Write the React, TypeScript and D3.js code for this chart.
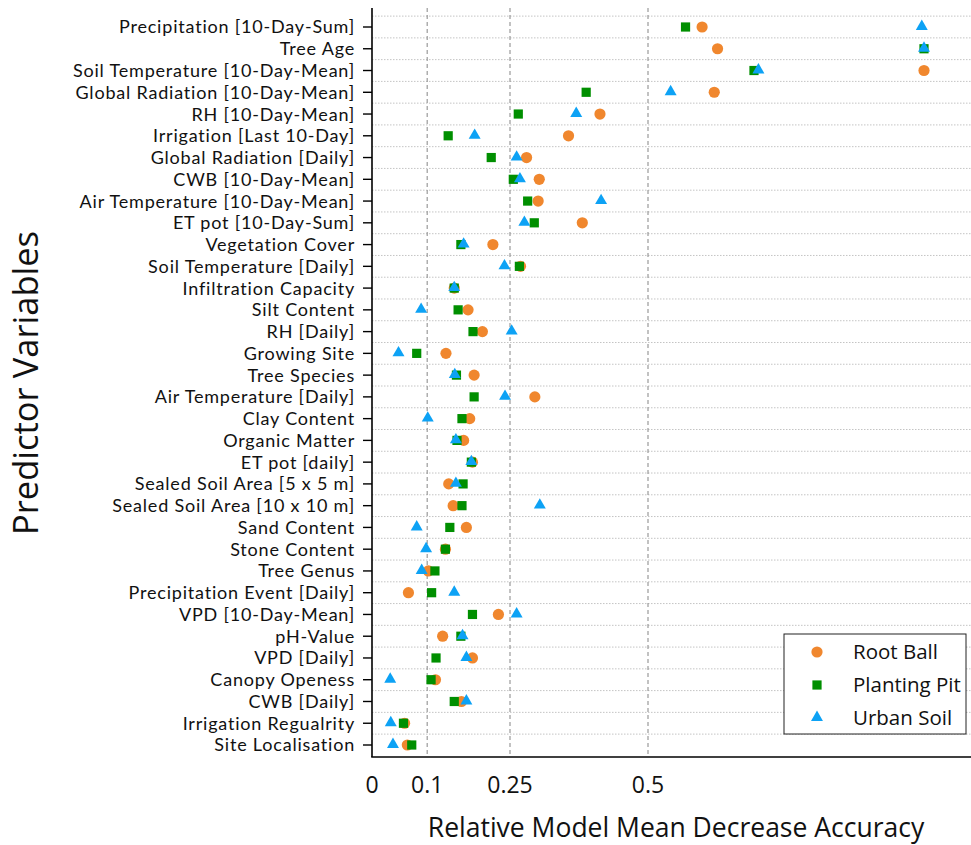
import React from "react";
import * as d3 from "d3";

// Predictor variables, top to bottom
const predictors = [
  "Precipitation [10-Day-Sum]",
  "Tree Age",
  "Soil Temperature [10-Day-Mean]",
  "Global Radiation [10-Day-Mean]",
  "RH [10-Day-Mean]",
  "Irrigation [Last 10-Day]",
  "Global Radiation [Daily]",
  "CWB [10-Day-Mean]",
  "Air Temperature [10-Day-Mean]",
  "ET pot [10-Day-Sum]",
  "Vegetation Cover",
  "Soil Temperature [Daily]",
  "Infiltration Capacity",
  "Silt Content",
  "RH [Daily]",
  "Growing Site",
  "Tree Species",
  "Air Temperature [Daily]",
  "Clay Content",
  "Organic Matter",
  "ET pot [daily]",
  "Sealed Soil Area [5 x 5 m]",
  "Sealed Soil Area [10 x 10 m]",
  "Sand Content",
  "Stone Content",
  "Tree Genus",
  "Precipitation Event [Daily]",
  "VPD [10-Day-Mean]",
  "pH-Value",
  "VPD [Daily]",
  "Canopy Openess",
  "CWB [Daily]",
  "Irrigation Regualrity",
  "Site Localisation",
];

// Relative mean decrease accuracy per site type
const rootBall = [
  0.598, 0.626, 1.0, 0.62, 0.413, 0.356, 0.28, 0.303, 0.301, 0.381, 0.219, 0.269,
  0.149, 0.174, 0.2, 0.134, 0.185, 0.295, 0.177, 0.166, 0.182, 0.139, 0.147, 0.171,
  0.133, 0.102, 0.066, 0.229, 0.128, 0.182, 0.115, 0.162, 0.059, 0.064,
];
const plantingPit = [
  0.568, 1.0, 0.692, 0.388, 0.265, 0.138, 0.216, 0.256, 0.282, 0.294, 0.161, 0.267,
  0.149, 0.156, 0.183, 0.081, 0.153, 0.185, 0.163, 0.154, 0.18, 0.165, 0.163, 0.141,
  0.133, 0.114, 0.108, 0.182, 0.161, 0.116, 0.107, 0.149, 0.057, 0.072,
];
const urbanSoil = [
  0.996, 1.0, 0.7, 0.541, 0.37, 0.186, 0.262, 0.268, 0.415, 0.276, 0.166, 0.24,
  0.149, 0.089, 0.253, 0.048, 0.15, 0.241, 0.101, 0.152, 0.18, 0.152, 0.304, 0.081,
  0.098, 0.09, 0.149, 0.262, 0.164, 0.171, 0.033, 0.171, 0.034, 0.038,
];

const xTicks = [0, 0.1, 0.25, 0.5];
const xTickLabels = ["0", "0.1", "0.25", "0.5"];
const gridValues = [0.1, 0.25, 0.5];

const seriesNames = ["Root Ball", "Planting Pit", "Urban Soil"];
const seriesColors = ["#f0872e", "#008f00", "#0da2f5"];

const W = 971;
const H = 845;
const FONT = "'Open Sans', Lato, sans-serif";
const LABEL_FONT = "Lato, 'Open Sans', sans-serif";

const left = 372;
const top = 8;
const bottom = 757;

function Marker({ kind, x, y, color }: { kind: number; x: number; y: number; color: string }) {
  if (kind === 0) return <circle cx={x} cy={y} r={5.6} fill={color} />;
  if (kind === 1) return <rect x={x - 4.6} y={y - 4.6} width={9.2} height={9.2} fill={color} />;
  const s = d3.symbol().type(d3.symbolTriangle).size(62)();
  return <path d={s || ""} transform={`translate(${x},${y - 0.5})`} fill={color} />;
}

export default function App() {
  const x = d3.scaleLinear().domain([0, (W - left) / 552]).range([left, W]);
  const y = d3.scalePoint<string>().domain(predictors).range([27, 745]);
  const step = y.step();
  const series = [rootBall, plantingPit, urbanSoil];

  return (
    <svg
      width={W}
      height={H}
      style={{ position: "absolute", left: 0, top: 0, background: "#fff" }}
      fontFamily={FONT}
    >
      {/* horizontal dotted grid between rows */}
      {predictors.map((p, i) => (
        <line
          key={"hg" + i}
          x1={left}
          x2={W}
          y1={(y(p) as number) - step / 2}
          y2={(y(p) as number) - step / 2}
          stroke="#c4c4c4"
          strokeWidth={1}
          strokeDasharray="1.5,1.5"
        />
      ))}
      {/* vertical dashed grid */}
      {gridValues.map((v) => (
        <line
          key={"vg" + v}
          x1={x(v)}
          x2={x(v)}
          y1={top}
          y2={bottom}
          stroke="#9a9a9a"
          strokeWidth={1.2}
          strokeDasharray="4,3"
        />
      ))}

      {/* points: root ball, then planting pit, then urban soil on top */}
      {series.map((vals, k) =>
        vals.map((v, i) => (
          <Marker key={k + "-" + i} kind={k} x={x(v)} y={y(predictors[i]) as number} color={seriesColors[k]} />
        ))
      )}

      {/* axes */}
      <line x1={left} x2={left} y1={top} y2={bottom} stroke="#000" strokeWidth={1.6} />
      <line x1={left - 0.8} x2={W} y1={bottom} y2={bottom} stroke="#000" strokeWidth={1.6} />

      {predictors.map((p) => (
        <g key={"yt" + p} transform={`translate(0,${y(p)})`}>
          <line x1={left - 9} x2={left} stroke="#000" strokeWidth={1.4} />
          <text
            x={left - 17}
            dy="0.36em"
            textAnchor="end"
            fontFamily={LABEL_FONT}
            fontSize={18}
            letterSpacing={0.8}
            fill="#111"
          >
            {p}
          </text>
        </g>
      ))}

      {xTicks.map((v, i) => (
        <text key={"xt" + v} x={x(v)} y={793} textAnchor="middle" fontSize={23} fill="#111">
          {xTickLabels[i]}
        </text>
      ))}

      <text x={676} y={837} textAnchor="middle" fontSize={26.5} fill="#111">
        Relative Model Mean Decrease Accuracy
      </text>
      <text
        transform={`translate(38,383) rotate(-90)`}
        textAnchor="middle"
        fontSize={34.5}
        fill="#111"
      >
        Predictor Variables
      </text>

      {/* legend */}
      <g>
        <rect x={784} y={634} width={182} height={100} fill="#fff" stroke="#222" strokeWidth={1} />
        {seriesNames.map((n, k) => {
          const ly = 652 + k * 33;
          return (
            <g key={n}>
              <Marker kind={k} x={817} y={ly} color={seriesColors[k]} />
              <text x={853} y={ly} dy="0.36em" fontSize={20.5} fill="#111">
                {n}
              </text>
            </g>
          );
        })}
      </g>
    </svg>
  );
}
